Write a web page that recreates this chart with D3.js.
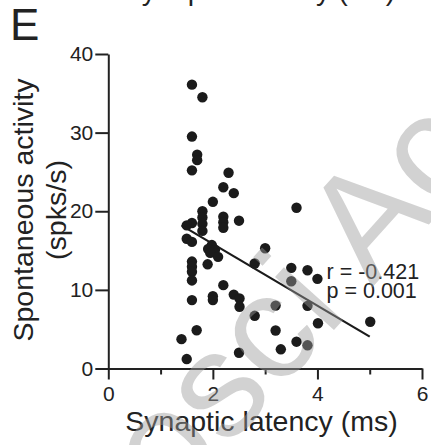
<!DOCTYPE html>
<html>
<head>
<meta charset="utf-8">
<script src="https://cdn.jsdelivr.net/npm/d3@7"></script>
<style>
  body { margin:0; background:#fff; }
  text { font-family: "Liberation Sans", Arial, sans-serif; fill:#222; }
  .axis path, .axis line { stroke:#222; stroke-width:2px; }
</style>
</head>
<body>
<svg class="one"></svg>
<script>
// latency (ms) / spontaneous activity (spks/s), one entry per cell
var latency = [1.60,1.80,1.60,1.70,1.70,1.60,2.30,2.20,2.40,2.00,
               1.80,1.80,1.80,1.80,2.20,2.20,2.20,2.50,1.60,1.50,
               1.50,1.60,1.98,1.91,2.04,1.95,2.10,1.60,1.60,1.60,
               1.90,2.80,1.60,2.20,1.60,2.00,2.00,2.40,2.51,2.51,
               2.80,1.69,1.40,1.50,2.50,3.60,3.00,3.50,3.81,3.50,
               4.00,3.20,3.81,4.01,5.01,3.20,3.60,3.81,3.30];
var activity = [36.1,34.5,29.5,27.2,26.5,25.2,24.9,23.05,22.3,21.2,
                20.0,19.2,18.4,17.5,19.3,18.6,17.9,18.8,18.5,18.2,
                16.5,16.1,15.7,15.2,15.1,14.7,14.2,13.6,12.95,12.3,
                13.25,13.35,11.2,10.6,8.7,9.2,8.7,9.4,8.9,7.85,
                6.7,4.86,3.73,1.2,2.0,20.45,15.3,12.8,12.5,11.1,
                11.4,8.0,7.97,5.75,5.95,4.83,3.41,2.95,2.44];
var fitLatency = [1.40, 5.00];
var fitActivity = [18.2, 4.05];
var xTicks = [0, 2, 4, 6];
var xMinorTicks = [1, 3, 5];
var yTicks = [0, 10, 20, 30, 40];
var stats = ['r = -0.421', 'p = 0.001'];

var svgwidth = 431, svgheight = 445;
var svg = d3.select('.one').attr('width', svgwidth).attr('height', svgheight);

var xScale = d3.scaleLinear().domain([0, 6]).range([108.3, 422]);
var yScale = d3.scaleLinear().domain([0, 40]).range([368.5, 54]);

var points = latency.map(function(d, i){ return {x: d, y: activity[i]}; });
var fit = fitLatency.map(function(d, i){ return {x: d, y: fitActivity[i]}; });

// panel letter + clipped title from the panel above
svg.append('text').attr('x', 10).attr('y', 40).style('font-size', '44px').text('E');
svg.append('text').attr('x', 259).attr('y', 0).attr('text-anchor', 'middle')
   .style('font-size', '28.5px').text('Synaptic latency (ms)');

// axes
var yAxis = d3.axisLeft(yScale).tickValues(yTicks).tickSize(13).tickSizeOuter(0).tickPadding(2)
              .tickFormat(d3.format('d'));
svg.append('g').classed('axis', true)
   .attr('transform', 'translate(' + xScale(0) + ',0)')
   .call(yAxis)
   .selectAll('text').style('font-size', '21px');

var xMinor = d3.axisBottom(xScale).tickValues(xMinorTicks).tickSize(6).tickFormat('');
svg.append('g').classed('axis', true)
   .attr('transform', 'translate(0,' + yScale(0) + ')')
   .call(xMinor)
   .select('.domain').remove();

var xAxis = d3.axisBottom(xScale).tickValues(xTicks).tickSize(11).tickSizeOuter(0).tickPadding(7)
              .tickFormat(d3.format('d'));
svg.append('g').classed('axis', true)
   .attr('transform', 'translate(0,' + yScale(0) + ')')
   .call(xAxis)
   .selectAll('text').style('font-size', '21px');

svg.selectAll('.axis .tick text').style('fill', '#222');

// axis titles
svg.append('text').attr('x', 261.5).attr('y', 431).attr('text-anchor', 'middle')
   .style('font-size', '28.5px').text('Synaptic latency (ms)');

var ylab = svg.append('text').attr('transform', 'translate(33,210) rotate(-90)')
   .attr('text-anchor', 'middle').style('font-size', '28.5px');
ylab.append('tspan').attr('x', 0).attr('y', 0).text('Spontaneous activity');
ylab.append('tspan').attr('x', 0).attr('y', 33).text('(spks/s)');

// dots
svg.append('g').selectAll('circle').data(points).enter()
   .append('circle')
   .attr('cx', function(d){ return xScale(d.x); })
   .attr('cy', function(d){ return yScale(d.y); })
   .attr('r', 5.2)
   .attr('fill', '#1b1b1b');

// regression line
var linemake = d3.line()
   .x(function(d){ return xScale(d.x); })
   .y(function(d){ return yScale(d.y); });
svg.append('path').datum(fit).attr('d', linemake)
   .attr('stroke', '#1b1b1b').attr('stroke-width', 2.2).attr('fill', 'none');

svg.append('g').selectAll('text').data(stats).enter()
   .append('text')
   .attr('x', 326.5)
   .attr('y', function(d, i){ return 279.3 + i * 19; })
   .style('font-size', '21.5px')
   .text(function(d){ return d; });

// journal watermark on top
svg.append('text')
   .attr('transform', 'translate(171,511) rotate(-48)')
   .style('font-size', '150px')
   .style('fill', 'rgb(156,156,156)')
   .style('fill-opacity', 0.45)
   .text('osci Accepted');
</script>
</body>
</html>
